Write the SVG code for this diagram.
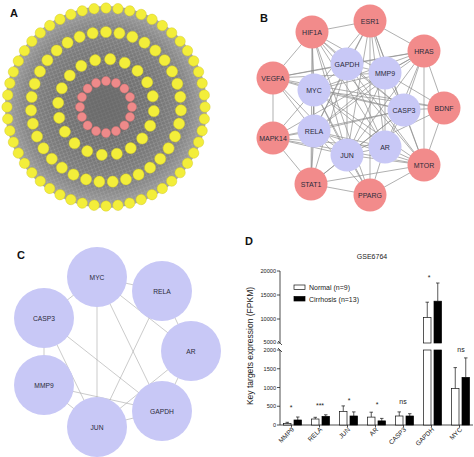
<svg xmlns="http://www.w3.org/2000/svg" xmlns:xlink="http://www.w3.org/1999/xlink" width="474" height="457" viewBox="0 0 474 457">
<style>
text{font-family:"Liberation Sans",Arial,sans-serif}
.lbl{font-size:11px;font-weight:bold;fill:#111}
.y{fill:#f3ee3a;stroke:#cfc622;stroke-width:0.4}
.p{fill:#ee8a8a;stroke:#d87070;stroke-width:0.4}
.bp{fill:#f28b8b}
.bv{fill:#c8c8f6}
.bt{font-size:7px;fill:#2b2b3a;text-anchor:middle}
.ct{font-size:6.7px;fill:#2b2b3a;text-anchor:middle}
.eb line{stroke:#8e8e8e;stroke-width:0.7}
.ec line{stroke:#a8a8a8;stroke-width:0.6}
.ax{stroke:#222;stroke-width:0.8;fill:none}
.tk{font-size:5.6px;fill:#222;text-anchor:end}
.xl{font-size:6.5px;fill:#222;text-anchor:end}
.sig{font-size:7px;fill:#222;text-anchor:middle}
.wb{fill:#fff;stroke:#111;stroke-width:0.7}
.kb{fill:#000;stroke:#000;stroke-width:0.7}
.er{stroke:#111;stroke-width:0.7;fill:none}
</style>
<defs>
<radialGradient id="gbg" cx="0.5" cy="0.5" r="0.5">
<stop offset="0" stop-color="#6b6b6b"/>
<stop offset="0.5" stop-color="#767676"/>
<stop offset="0.8" stop-color="#858585"/>
<stop offset="1" stop-color="#a3a3a3"/>
</radialGradient>
<pattern id="mesh" width="5" height="5" patternUnits="userSpaceOnUse" patternTransform="rotate(25)">
<path d="M0 0L5 5M5 0L0 5" stroke="#c4c4c4" stroke-width="0.45"/>
</pattern>
<circle id="n1" cx="106" cy="8" r="5.2" class="y"/>
<circle id="n2" cx="106" cy="32" r="5.6" class="y"/>
<circle id="n3" cx="106" cy="59" r="5.6" class="y"/>
<circle id="n4" cx="106" cy="81" r="4.5" class="p"/>
</defs>
<rect width="474" height="457" fill="#fff"/>

<!-- Panel A -->
<g id="panelA">
<text class="lbl" x="10" y="17">A</text>
<g id="a-edges">
<circle cx="106" cy="107" r="101" fill="url(#gbg)"/>
<circle cx="106" cy="107" r="101" fill="url(#mesh)" opacity="0.55"/>
<circle cx="106" cy="107" r="30" fill="#6a6a6a" opacity="0.6"/>
</g>
<g id="a-ring1">
<use id="a1-0" href="#n1" transform="rotate(0 106 107)"/><use id="a1-1" href="#n1" transform="rotate(6.92 106 107)"/><use id="a1-2" href="#n1" transform="rotate(13.85 106 107)"/><use id="a1-3" href="#n1" transform="rotate(20.77 106 107)"/><use id="a1-4" href="#n1" transform="rotate(27.69 106 107)"/><use id="a1-5" href="#n1" transform="rotate(34.62 106 107)"/><use id="a1-6" href="#n1" transform="rotate(41.54 106 107)"/><use id="a1-7" href="#n1" transform="rotate(48.46 106 107)"/><use id="a1-8" href="#n1" transform="rotate(55.38 106 107)"/><use id="a1-9" href="#n1" transform="rotate(62.31 106 107)"/><use id="a1-10" href="#n1" transform="rotate(69.23 106 107)"/><use id="a1-11" href="#n1" transform="rotate(76.15 106 107)"/><use id="a1-12" href="#n1" transform="rotate(83.08 106 107)"/><use id="a1-13" href="#n1" transform="rotate(90 106 107)"/><use id="a1-14" href="#n1" transform="rotate(96.92 106 107)"/><use id="a1-15" href="#n1" transform="rotate(103.85 106 107)"/><use id="a1-16" href="#n1" transform="rotate(110.77 106 107)"/><use id="a1-17" href="#n1" transform="rotate(117.69 106 107)"/><use id="a1-18" href="#n1" transform="rotate(124.62 106 107)"/><use id="a1-19" href="#n1" transform="rotate(131.54 106 107)"/><use id="a1-20" href="#n1" transform="rotate(138.46 106 107)"/><use id="a1-21" href="#n1" transform="rotate(145.38 106 107)"/><use id="a1-22" href="#n1" transform="rotate(152.31 106 107)"/><use id="a1-23" href="#n1" transform="rotate(159.23 106 107)"/><use id="a1-24" href="#n1" transform="rotate(166.15 106 107)"/><use id="a1-25" href="#n1" transform="rotate(173.08 106 107)"/><use id="a1-26" href="#n1" transform="rotate(180 106 107)"/><use id="a1-27" href="#n1" transform="rotate(186.92 106 107)"/><use id="a1-28" href="#n1" transform="rotate(193.85 106 107)"/><use id="a1-29" href="#n1" transform="rotate(200.77 106 107)"/><use id="a1-30" href="#n1" transform="rotate(207.69 106 107)"/><use id="a1-31" href="#n1" transform="rotate(214.62 106 107)"/><use id="a1-32" href="#n1" transform="rotate(221.54 106 107)"/><use id="a1-33" href="#n1" transform="rotate(228.46 106 107)"/><use id="a1-34" href="#n1" transform="rotate(235.38 106 107)"/><use id="a1-35" href="#n1" transform="rotate(242.31 106 107)"/><use id="a1-36" href="#n1" transform="rotate(249.23 106 107)"/><use id="a1-37" href="#n1" transform="rotate(256.15 106 107)"/><use id="a1-38" href="#n1" transform="rotate(263.08 106 107)"/><use id="a1-39" href="#n1" transform="rotate(270 106 107)"/><use id="a1-40" href="#n1" transform="rotate(276.92 106 107)"/><use id="a1-41" href="#n1" transform="rotate(283.85 106 107)"/><use id="a1-42" href="#n1" transform="rotate(290.77 106 107)"/><use id="a1-43" href="#n1" transform="rotate(297.69 106 107)"/><use id="a1-44" href="#n1" transform="rotate(304.62 106 107)"/><use id="a1-45" href="#n1" transform="rotate(311.54 106 107)"/><use id="a1-46" href="#n1" transform="rotate(318.46 106 107)"/><use id="a1-47" href="#n1" transform="rotate(325.38 106 107)"/><use id="a1-48" href="#n1" transform="rotate(332.31 106 107)"/><use id="a1-49" href="#n1" transform="rotate(339.23 106 107)"/><use id="a1-50" href="#n1" transform="rotate(346.15 106 107)"/><use id="a1-51" href="#n1" transform="rotate(353.08 106 107)"/>
</g>
<g id="a-ring2">
<use id="a2-0" href="#n2" transform="rotate(0 106 107)"/><use id="a2-1" href="#n2" transform="rotate(10.29 106 107)"/><use id="a2-2" href="#n2" transform="rotate(20.57 106 107)"/><use id="a2-3" href="#n2" transform="rotate(30.86 106 107)"/><use id="a2-4" href="#n2" transform="rotate(41.14 106 107)"/><use id="a2-5" href="#n2" transform="rotate(51.43 106 107)"/><use id="a2-6" href="#n2" transform="rotate(61.71 106 107)"/><use id="a2-7" href="#n2" transform="rotate(72 106 107)"/><use id="a2-8" href="#n2" transform="rotate(82.29 106 107)"/><use id="a2-9" href="#n2" transform="rotate(92.57 106 107)"/><use id="a2-10" href="#n2" transform="rotate(102.86 106 107)"/><use id="a2-11" href="#n2" transform="rotate(113.14 106 107)"/><use id="a2-12" href="#n2" transform="rotate(123.43 106 107)"/><use id="a2-13" href="#n2" transform="rotate(133.71 106 107)"/><use id="a2-14" href="#n2" transform="rotate(144 106 107)"/><use id="a2-15" href="#n2" transform="rotate(154.29 106 107)"/><use id="a2-16" href="#n2" transform="rotate(164.57 106 107)"/><use id="a2-17" href="#n2" transform="rotate(174.86 106 107)"/><use id="a2-18" href="#n2" transform="rotate(185.14 106 107)"/><use id="a2-19" href="#n2" transform="rotate(195.43 106 107)"/><use id="a2-20" href="#n2" transform="rotate(205.71 106 107)"/><use id="a2-21" href="#n2" transform="rotate(216 106 107)"/><use id="a2-22" href="#n2" transform="rotate(226.29 106 107)"/><use id="a2-23" href="#n2" transform="rotate(236.57 106 107)"/><use id="a2-24" href="#n2" transform="rotate(246.86 106 107)"/><use id="a2-25" href="#n2" transform="rotate(257.14 106 107)"/><use id="a2-26" href="#n2" transform="rotate(267.43 106 107)"/><use id="a2-27" href="#n2" transform="rotate(277.71 106 107)"/><use id="a2-28" href="#n2" transform="rotate(288 106 107)"/><use id="a2-29" href="#n2" transform="rotate(298.29 106 107)"/><use id="a2-30" href="#n2" transform="rotate(308.57 106 107)"/><use id="a2-31" href="#n2" transform="rotate(318.86 106 107)"/><use id="a2-32" href="#n2" transform="rotate(329.14 106 107)"/><use id="a2-33" href="#n2" transform="rotate(339.43 106 107)"/><use id="a2-34" href="#n2" transform="rotate(349.71 106 107)"/>
</g>
<g id="a-ring3">
<use id="a3-0" href="#n3" transform="rotate(5 106 107)"/><use id="a3-1" href="#n3" transform="rotate(23 106 107)"/><use id="a3-2" href="#n3" transform="rotate(41 106 107)"/><use id="a3-3" href="#n3" transform="rotate(59 106 107)"/><use id="a3-4" href="#n3" transform="rotate(77 106 107)"/><use id="a3-5" href="#n3" transform="rotate(95 106 107)"/><use id="a3-6" href="#n3" transform="rotate(113 106 107)"/><use id="a3-7" href="#n3" transform="rotate(131 106 107)"/><use id="a3-8" href="#n3" transform="rotate(149 106 107)"/><use id="a3-9" href="#n3" transform="rotate(167 106 107)"/><use id="a3-10" href="#n3" transform="rotate(185 106 107)"/><use id="a3-11" href="#n3" transform="rotate(203 106 107)"/><use id="a3-12" href="#n3" transform="rotate(221 106 107)"/><use id="a3-13" href="#n3" transform="rotate(239 106 107)"/><use id="a3-14" href="#n3" transform="rotate(257 106 107)"/><use id="a3-15" href="#n3" transform="rotate(275 106 107)"/><use id="a3-16" href="#n3" transform="rotate(293 106 107)"/><use id="a3-17" href="#n3" transform="rotate(311 106 107)"/><use id="a3-18" href="#n3" transform="rotate(329 106 107)"/><use id="a3-19" href="#n3" transform="rotate(347 106 107)"/>
</g>
<g id="a-ring4">
<use id="a4-0" href="#n4" transform="rotate(0 106 107)"/><use id="a4-1" href="#n4" transform="rotate(22.5 106 107)"/><use id="a4-2" href="#n4" transform="rotate(45 106 107)"/><use id="a4-3" href="#n4" transform="rotate(67.5 106 107)"/><use id="a4-4" href="#n4" transform="rotate(90 106 107)"/><use id="a4-5" href="#n4" transform="rotate(112.5 106 107)"/><use id="a4-6" href="#n4" transform="rotate(135 106 107)"/><use id="a4-7" href="#n4" transform="rotate(157.5 106 107)"/><use id="a4-8" href="#n4" transform="rotate(180 106 107)"/><use id="a4-9" href="#n4" transform="rotate(202.5 106 107)"/><use id="a4-10" href="#n4" transform="rotate(225 106 107)"/><use id="a4-11" href="#n4" transform="rotate(247.5 106 107)"/><use id="a4-12" href="#n4" transform="rotate(270 106 107)"/><use id="a4-13" href="#n4" transform="rotate(292.5 106 107)"/><use id="a4-14" href="#n4" transform="rotate(315 106 107)"/><use id="a4-15" href="#n4" transform="rotate(337.5 106 107)"/>
</g>
</g>

<!-- Panel B -->
<g id="panelB">
<text class="lbl" x="260" y="22">B</text>
<g id="b-edges" class="eb">
<line x1="312" y1="32" x2="370" y2="21"/><line x1="370" y1="21" x2="424" y2="51"/><line x1="424" y1="51" x2="444" y2="108"/><line x1="444" y1="108" x2="424" y2="165"/><line x1="424" y1="165" x2="370" y2="195"/><line x1="370" y1="195" x2="311" y2="184"/><line x1="311" y1="184" x2="273" y2="138"/><line x1="273" y1="138" x2="273" y2="78"/><line x1="273" y1="78" x2="312" y2="32"/>
<line x1="424" y1="51" x2="424" y2="165"/><line x1="311" y1="184" x2="424" y2="165"/><line x1="273" y1="138" x2="424" y2="165"/><line x1="273" y1="78" x2="424" y2="51"/><line x1="312" y1="32" x2="311" y2="184"/><line x1="312" y1="32" x2="424" y2="165"/><line x1="370" y1="21" x2="370" y2="195"/><line x1="273" y1="78" x2="444" y2="108"/><line x1="273" y1="138" x2="424" y2="51"/><line x1="312" y1="32" x2="370" y2="195"/><line x1="370" y1="21" x2="424" y2="165"/>
<line x1="347" y1="64" x2="385" y2="73"/><line x1="347" y1="64" x2="314" y2="90"/><line x1="347" y1="64" x2="404" y2="110"/><line x1="347" y1="64" x2="314" y2="131"/><line x1="347" y1="64" x2="385" y2="147"/><line x1="347" y1="64" x2="347" y2="155"/><line x1="385" y1="73" x2="314" y2="90"/><line x1="385" y1="73" x2="404" y2="110"/><line x1="385" y1="73" x2="314" y2="131"/><line x1="385" y1="73" x2="385" y2="147"/><line x1="385" y1="73" x2="347" y2="155"/><line x1="314" y1="90" x2="404" y2="110"/><line x1="314" y1="90" x2="314" y2="131"/><line x1="314" y1="90" x2="385" y2="147"/><line x1="314" y1="90" x2="347" y2="155"/><line x1="404" y1="110" x2="314" y2="131"/><line x1="404" y1="110" x2="385" y2="147"/><line x1="404" y1="110" x2="347" y2="155"/><line x1="314" y1="131" x2="385" y2="147"/><line x1="314" y1="131" x2="347" y2="155"/><line x1="385" y1="147" x2="347" y2="155"/>
<line x1="312" y1="32" x2="347" y2="64"/><line x1="312" y1="32" x2="314" y2="90"/><line x1="312" y1="32" x2="385" y2="73"/><line x1="312" y1="32" x2="404" y2="110"/><line x1="312" y1="32" x2="314" y2="131"/><line x1="312" y1="32" x2="347" y2="155"/><line x1="312" y1="32" x2="385" y2="147"/>
<line x1="370" y1="21" x2="347" y2="64"/><line x1="370" y1="21" x2="385" y2="73"/><line x1="370" y1="21" x2="314" y2="90"/><line x1="370" y1="21" x2="404" y2="110"/><line x1="370" y1="21" x2="347" y2="155"/><line x1="370" y1="21" x2="314" y2="131"/><line x1="370" y1="21" x2="385" y2="147"/>
<line x1="424" y1="51" x2="347" y2="64"/><line x1="424" y1="51" x2="385" y2="73"/><line x1="424" y1="51" x2="314" y2="90"/><line x1="424" y1="51" x2="404" y2="110"/><line x1="424" y1="51" x2="314" y2="131"/><line x1="424" y1="51" x2="347" y2="155"/><line x1="424" y1="51" x2="385" y2="147"/>
<line x1="444" y1="108" x2="404" y2="110"/><line x1="444" y1="108" x2="385" y2="73"/><line x1="444" y1="108" x2="314" y2="90"/><line x1="444" y1="108" x2="347" y2="155"/>
<line x1="424" y1="165" x2="404" y2="110"/><line x1="424" y1="165" x2="385" y2="147"/><line x1="424" y1="165" x2="347" y2="155"/><line x1="424" y1="165" x2="314" y2="131"/><line x1="424" y1="165" x2="314" y2="90"/><line x1="424" y1="165" x2="347" y2="64"/>
<line x1="370" y1="195" x2="347" y2="155"/><line x1="370" y1="195" x2="385" y2="147"/><line x1="370" y1="195" x2="314" y2="131"/><line x1="370" y1="195" x2="314" y2="90"/>
<line x1="311" y1="184" x2="347" y2="155"/><line x1="311" y1="184" x2="314" y2="131"/><line x1="311" y1="184" x2="314" y2="90"/><line x1="311" y1="184" x2="347" y2="64"/><line x1="311" y1="184" x2="404" y2="110"/>
<line x1="273" y1="138" x2="314" y2="131"/><line x1="273" y1="138" x2="314" y2="90"/><line x1="273" y1="138" x2="347" y2="155"/><line x1="273" y1="138" x2="385" y2="147"/><line x1="273" y1="138" x2="404" y2="110"/>
<line x1="273" y1="78" x2="314" y2="90"/><line x1="273" y1="78" x2="347" y2="64"/><line x1="273" y1="78" x2="314" y2="131"/><line x1="273" y1="78" x2="347" y2="155"/><line x1="273" y1="78" x2="404" y2="110"/><line x1="273" y1="78" x2="385" y2="73"/>
</g>
<g id="b-HIF1A"><circle class="bp" cx="312" cy="32" r="16.5"/><text class="bt" x="312" y="34.5">HIF1A</text></g>
<g id="b-ESR1"><circle class="bp" cx="370" cy="21" r="16.5"/><text class="bt" x="370" y="23.5">ESR1</text></g>
<g id="b-HRAS"><circle class="bp" cx="424" cy="51" r="16.5"/><text class="bt" x="424" y="53.5">HRAS</text></g>
<g id="b-BDNF"><circle class="bp" cx="444" cy="108" r="16.5"/><text class="bt" x="444" y="110.5">BDNF</text></g>
<g id="b-MTOR"><circle class="bp" cx="424" cy="165" r="16.5"/><text class="bt" x="424" y="167.5">MTOR</text></g>
<g id="b-PPARG"><circle class="bp" cx="370" cy="195" r="16.5"/><text class="bt" x="370" y="197.5">PPARG</text></g>
<g id="b-STAT1"><circle class="bp" cx="311" cy="184" r="16.5"/><text class="bt" x="311" y="186.5">STAT1</text></g>
<g id="b-MAPK14"><circle class="bp" cx="273" cy="138" r="16.5"/><text class="bt" x="273" y="140.5">MAPK14</text></g>
<g id="b-VEGFA"><circle class="bp" cx="273" cy="78" r="16.5"/><text class="bt" x="273" y="80.5">VEGFA</text></g>
<g id="b-GAPDH"><circle class="bv" cx="347" cy="64" r="16.5"/><text class="bt" x="347" y="66.5">GAPDH</text></g>
<g id="b-MMP9"><circle class="bv" cx="385" cy="73" r="16.5"/><text class="bt" x="385" y="75.5">MMP9</text></g>
<g id="b-MYC"><circle class="bv" cx="314" cy="90" r="16.5"/><text class="bt" x="314" y="92.5">MYC</text></g>
<g id="b-CASP3"><circle class="bv" cx="404" cy="110" r="16.5"/><text class="bt" x="404" y="112.5">CASP3</text></g>
<g id="b-RELA"><circle class="bv" cx="314" cy="131" r="16.5"/><text class="bt" x="314" y="133.5">RELA</text></g>
<g id="b-AR"><circle class="bv" cx="385" cy="147" r="16.5"/><text class="bt" x="385" y="149.5">AR</text></g>
<g id="b-JUN"><circle class="bv" cx="347" cy="155" r="16.5"/><text class="bt" x="347" y="157.5">JUN</text></g>
</g>

<!-- Panel C -->
<g id="panelC">
<text class="lbl" x="17" y="259">C</text>
<g id="c-edges" class="ec">
<line x1="97" y1="277" x2="162" y2="291"/><line x1="97" y1="277" x2="44" y2="318"/><line x1="44" y1="318" x2="44" y2="385"/><line x1="162" y1="291" x2="191" y2="351"/><line x1="191" y1="351" x2="162" y2="411"/><line x1="44" y1="385" x2="97" y2="427"/><line x1="97" y1="427" x2="162" y2="411"/><line x1="97" y1="277" x2="97" y2="427"/><line x1="97" y1="277" x2="162" y2="411"/><line x1="97" y1="277" x2="191" y2="351"/><line x1="162" y1="291" x2="97" y2="427"/><line x1="44" y1="318" x2="162" y2="411"/><line x1="44" y1="318" x2="97" y2="427"/><line x1="44" y1="385" x2="162" y2="411"/><line x1="191" y1="351" x2="97" y2="427"/>
</g>
<g id="c-MYC"><circle class="bv" cx="97" cy="277" r="30"/><text class="ct" x="97" y="279.5">MYC</text></g>
<g id="c-RELA"><circle class="bv" cx="162" cy="291" r="30"/><text class="ct" x="162" y="293.5">RELA</text></g>
<g id="c-CASP3"><circle class="bv" cx="44" cy="318" r="30"/><text class="ct" x="44" y="320.5">CASP3</text></g>
<g id="c-AR"><circle class="bv" cx="191" cy="351" r="30"/><text class="ct" x="191" y="353.5">AR</text></g>
<g id="c-MMP9"><circle class="bv" cx="44" cy="385" r="30"/><text class="ct" x="44" y="387.5">MMP9</text></g>
<g id="c-GAPDH"><circle class="bv" cx="162" cy="411" r="30"/><text class="ct" x="162" y="413.5">GAPDH</text></g>
<g id="c-JUN"><circle class="bv" cx="97" cy="427" r="30"/><text class="ct" x="97" y="429.5">JUN</text></g>
</g>

<!-- Panel D -->
<g id="panelD">
<text class="lbl" x="245" y="245">D</text>
<text x="372" y="258.5" style="font-size:7px;fill:#222;text-anchor:middle">GSE6764</text>
<text transform="translate(252.5 346) rotate(-90)" style="font-size:8.5px;fill:#222;text-anchor:middle">Key targets expression (FPKM)</text>
<g id="d-axes">
<path class="ax" d="M280 271V343M280 350V425H473"/>
<path class="ax" d="M277 271H280M277 295H280M277 319H280M277 343H280M277 350H280M277 368.75H280M277 387.5H280M277 406.25H280M277 425H280"/>
<path class="ax" d="M278 341L282 345M278 348L282 352" stroke-width="0.6"/>
<path class="ax" d="M291.5 425v2.5M319.5 425v2.5M347.5 425v2.5M375.5 425v2.5M403.5 425v2.5M431.5 425v2.5M459.5 425v2.5"/>
<text class="tk" x="276" y="273">20000</text>
<text class="tk" x="276" y="297">15000</text>
<text class="tk" x="276" y="321">10000</text>
<text class="tk" x="276" y="344">5000</text>
<text class="tk" x="276" y="352">2000</text>
<text class="tk" x="276" y="370.8">1500</text>
<text class="tk" x="276" y="389.5">1000</text>
<text class="tk" x="276" y="408.3">500</text>
<text class="tk" x="276" y="427">0</text>
</g>
<g id="d-legend">
<rect class="wb" x="294" y="285" width="11" height="4.5"/>
<rect class="kb" x="294" y="296.5" width="11" height="4.5"/>
<text x="309" y="290" style="font-size:7px;fill:#222">Normal (n=9)</text>
<text x="309" y="301.5" style="font-size:7px;fill:#222">Cirrhosis (n=13)</text>
</g>
<g id="d-bars">
<path class="er" d="M287.25 423.5V422.3M285.5 422.3H289"/>
<rect class="wb" x="283.5" y="423.5" width="7.5" height="1.5"/>
<path class="er" d="M297.75 420V417M296 417H299.5"/>
<rect class="kb" x="294" y="420" width="7.5" height="5"/>
<path class="er" d="M315.25 419V417.3M313.5 417.3H317"/>
<rect class="wb" x="311.5" y="419" width="7.5" height="6"/>
<path class="er" d="M325.75 416.4V414.8M324 414.8H327.5"/>
<rect class="kb" x="322" y="416.4" width="7.5" height="8.6"/>
<path class="er" d="M343.25 411.5V405.9M341.5 405.9H345"/>
<rect class="wb" x="339.5" y="411.5" width="7.5" height="13.5"/>
<path class="er" d="M353.75 416V411.9M352 411.9H355.5"/>
<rect class="kb" x="350" y="416" width="7.5" height="9"/>
<path class="er" d="M371.25 417.1V412.2M369.5 412.2H373"/>
<rect class="wb" x="367.5" y="417.1" width="7.5" height="7.9"/>
<path class="er" d="M381.75 420.9V418.4M380 418.4H383.5"/>
<rect class="kb" x="378" y="420.9" width="7.5" height="4.1"/>
<path class="er" d="M399.25 416V411.9M397.5 411.9H401"/>
<rect class="wb" x="395.5" y="416" width="7.5" height="9"/>
<path class="er" d="M409.75 416V413.7M408 413.7H411.5"/>
<rect class="kb" x="406" y="416" width="7.5" height="9"/>
<path class="er" d="M427.25 317.6V302.2M425.5 302.2H429"/>
<rect class="wb" x="423.5" y="317.6" width="7.5" height="25.4"/>
<rect class="wb" x="423.5" y="350" width="7.5" height="75"/>
<path class="er" d="M437.75 301.2V283M436 283H439.5"/>
<rect class="kb" x="434" y="301.2" width="7.5" height="41.8"/>
<rect class="kb" x="434" y="350" width="7.5" height="75"/>
<path class="er" d="M455.25 388.6V367.6M453.5 367.6H457"/>
<rect class="wb" x="451.5" y="388.6" width="7.5" height="36.4"/>
<path class="er" d="M465.75 377.4V357.9M464 357.9H467.5"/>
<rect class="kb" x="462" y="377.4" width="7.5" height="47.6"/>
</g>
<g id="d-sig">
<text class="sig" x="291" y="410">*</text>
<text class="sig" x="320" y="408">***</text>
<text class="sig" x="349" y="403">*</text>
<text class="sig" x="377" y="407">*</text>
<text class="sig" x="403" y="404">ns</text>
<text class="sig" x="429" y="280">*</text>
<text class="sig" x="461" y="352">ns</text>
</g>
<g id="d-xlabels">
<text class="xl" transform="translate(294.5 430) rotate(-45)">MMP9</text>
<text class="xl" transform="translate(322.5 430) rotate(-45)">RELA</text>
<text class="xl" transform="translate(350.5 430) rotate(-45)">JUN</text>
<text class="xl" transform="translate(378.5 430) rotate(-45)">AR</text>
<text class="xl" transform="translate(406.5 430) rotate(-45)">CASP3</text>
<text class="xl" transform="translate(434.5 430) rotate(-45)">GAPDH</text>
<text class="xl" transform="translate(462.5 430) rotate(-45)">MYC</text>
</g>
</g>
</svg>
